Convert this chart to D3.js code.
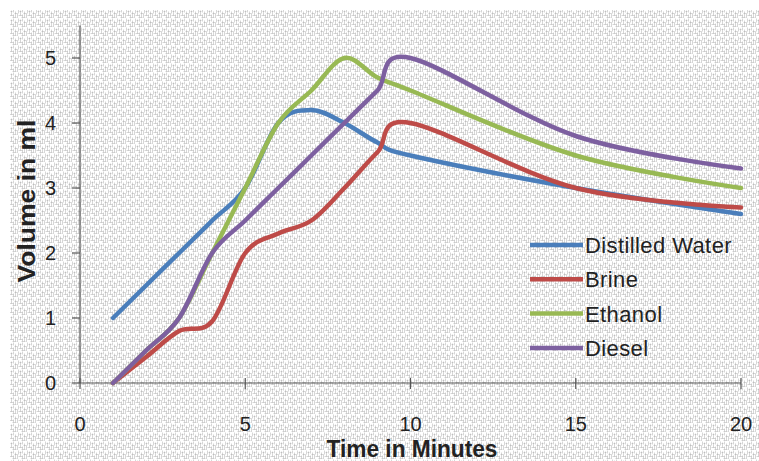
<!DOCTYPE html>
<html lang="en">
<meta charset="UTF-8">
<head>
    <title>Volume vs time</title>
    <script src="https://d3js.org/d3.v7.min.js"></script>
    <style>
        body { margin: 0; background: #fff; }
        text { font-family: "Liberation Sans", Arial, sans-serif; fill: #222; }
    </style>
</head>
<body>
    <div id="plot"></div>
    <script>
        // data (minutes -> ml)
        var minutes = [1, 2, 3, 4, 5, 6, 7, 8, 9, 10, 15, 20];
        var distilledWater = [1, 1.5, 2, 2.5, 3, 4, 4.2, 4, 3.7, 3.5, 3, 2.6];
        var brine = [0, 0.4, 0.8, 0.95, 2, 2.3, 2.5, 3, 3.55, 4, 3, 2.7];
        var ethanol = [0, 0.5, 1, 2, 3, 4, 4.5, 5, 4.7, 4.5, 3.5, 3];
        var diesel = [0, 0.5, 1, 2, 2.5, 3, 3.5, 4, 4.5, 5, 3.8, 3.3];
        var seriesNames = ["Distilled Water", "Brine", "Ethanol", "Diesel"];
        var seriesValues = [distilledWater, brine, ethanol, diesel];
        var colors = ["#4A7EBB", "#BE4B48", "#98B954", "#7D60A0"];
        var xTicks = [0, 5, 10, 15, 20];
        var yTicks = [0, 1, 2, 3, 4, 5];

        var width = 759, height = 461;
        var svg = d3.select("#plot").append("svg")
            .attr("width", width)
            .attr("height", height);

        // woven paper texture
        var defs = svg.append("defs");
        var pat = defs.append("pattern")
            .attr("id", "paper")
            .attr("width", 9).attr("height", 9)
            .attr("patternUnits", "userSpaceOnUse");
        var segs = [
            [0, 0, 0, 4], [2, 1, 2, 6], [4, 0, 4, 3], [6, 2, 6, 8], [8, 4, 8, 9],
            [0, 6, 4, 6], [3, 8, 7, 8], [5, 4, 8, 4], [1, 2, 3, 2], [4, 5, 4, 8]
        ];
        segs.forEach(function (s) {
            pat.append("line")
                .attr("x1", s[0] + 0.5).attr("y1", s[1] + 0.5)
                .attr("x2", s[2] + 0.5).attr("y2", s[3] + 0.5)
                .attr("stroke", "#999")
                .attr("stroke-opacity", 0.4)
                .attr("stroke-width", 1);
        });
        svg.append("rect")
            .attr("x", 10).attr("y", 10)
            .attr("width", width - 10).attr("height", height - 10)
            .attr("fill", "url(#paper)");

        var x = d3.scaleLinear().domain([0, 20]).range([80, 741]);
        var y = d3.scaleLinear().domain([0, 5.5]).range([383, 25.5]);

        // y axis
        svg.append("line")
            .attr("x1", x(0)).attr("x2", x(0))
            .attr("y1", y(5.5)).attr("y2", y(0))
            .attr("stroke", "#555").attr("stroke-width", 1.2);
        svg.selectAll(".ytick").data(yTicks).join("line")
            .attr("x1", x(0) - 8).attr("x2", x(0))
            .attr("y1", d => y(d)).attr("y2", d => y(d))
            .attr("stroke", "#555").attr("stroke-width", 1.2);
        svg.selectAll(".ylab").data(yTicks).join("text")
            .attr("x", 56).attr("y", d => y(d) + 7)
            .attr("text-anchor", "end")
            .style("font-size", "20px")
            .text(d => d);

        // x axis
        svg.append("line")
            .attr("x1", x(0)).attr("x2", x(20))
            .attr("y1", y(0)).attr("y2", y(0))
            .attr("stroke", "#555").attr("stroke-width", 1.2);
        svg.selectAll(".xtick").data(xTicks).join("line")
            .attr("x1", d => x(d)).attr("x2", d => x(d))
            .attr("y1", y(0) - 5).attr("y2", y(0) + 6)
            .attr("stroke", "#555").attr("stroke-width", 1.2);
        svg.selectAll(".xlab").data(xTicks).join("text")
            .attr("x", d => x(d)).attr("y", 431)
            .attr("text-anchor", "middle")
            .style("font-size", "20px")
            .text(d => d);

        // axis titles
        svg.append("text")
            .attr("x", 412).attr("y", 457)
            .attr("text-anchor", "middle")
            .attr("textLength", 171)
            .attr("lengthAdjust", "spacingAndGlyphs")
            .style("font-size", "23px").style("font-weight", "bold")
            .text("Time in Minutes");
        svg.append("text")
            .attr("transform", "translate(35,201) rotate(-90)")
            .attr("text-anchor", "middle")
            .attr("textLength", 163)
            .attr("lengthAdjust", "spacingAndGlyphs")
            .style("font-size", "23px").style("font-weight", "bold")
            .text("Volume in ml");

        // lines, Excel-like smoothing
        var line = d3.line()
            .x((d, i) => x(minutes[i]))
            .y(d => y(d))
            .curve(d3.curveCardinal.tension(0));
        svg.selectAll(".series").data(seriesValues).join("path")
            .attr("d", d => line(d))
            .attr("fill", "none")
            .attr("stroke", (d, i) => colors[i])
            .attr("stroke-width", 4.5)
            .attr("stroke-linecap", "round")
            .attr("stroke-linejoin", "round");

        // legend
        var leg = svg.append("g");
        seriesNames.forEach(function (name, i) {
            var ly = 245 + i * 34.3;
            leg.append("line")
                .attr("x1", 530).attr("x2", 583)
                .attr("y1", ly).attr("y2", ly)
                .attr("stroke", colors[i]).attr("stroke-width", 4.5);
            leg.append("text")
                .attr("x", 585).attr("y", ly + 8)
                .style("font-size", "22px")
                .style("letter-spacing", "0.4px")
                .text(name);
        });
    </script>
</body>
</html>
